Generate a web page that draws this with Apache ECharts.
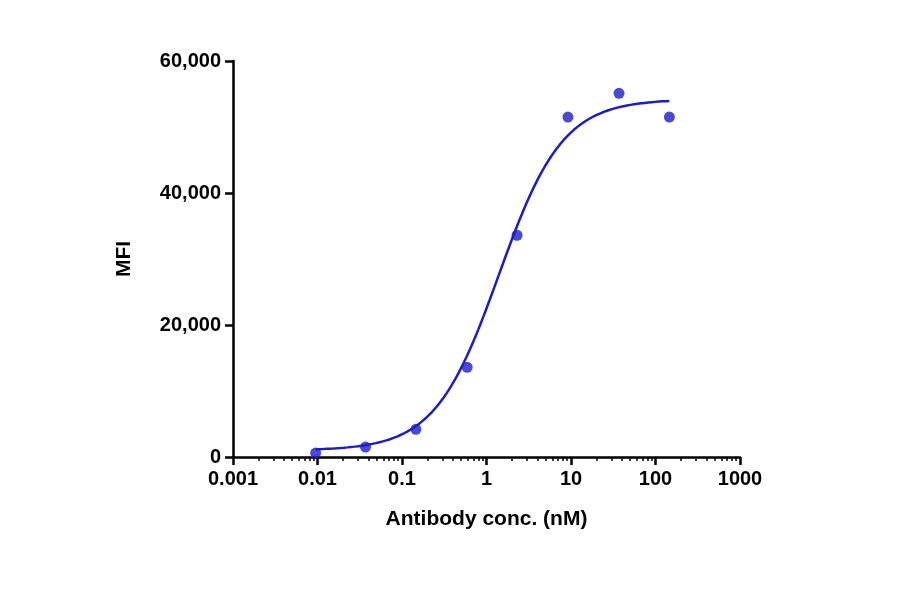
<!DOCTYPE html>
<html><head><meta charset="utf-8">
<script src="https://cdn.jsdelivr.net/npm/echarts@6/dist/echarts.min.js"></script>
<style>html,body{margin:0;background:#fff}#c{width:900px;height:594px}</style>
</head><body><div id="c"></div>
<script>
const conc = [0.0095, 0.037, 0.146, 0.59, 2.3, 9.2, 37, 146];
const mfi = [600, 1500, 4200, 13600, 33600, 51500, 55100, 51500];
// 4PL fit parameters: bottom, top, EC50, hill
const fitParams = [1000, 54200, 1.4, 1.15];
const fitRange = [0.0095, 146];
const yTicks = [0, 20000, 40000, 60000];

(function () {
const [fBot, fTop, ec50, hill] = fitParams;
const curve = [];
const l0 = Math.log10(fitRange[0]), l1 = Math.log10(fitRange[1]);
for (let i = 0; i <= 200; i++) {
  const x = Math.pow(10, l0 + (l1 - l0) * i / 200);
  curve.push([x, fBot + (fTop - fBot) / (1 + Math.pow(ec50 / x, hill))]);
}
const font = {fontFamily: 'Liberation Sans, Arial', fontWeight: 'bold', color: '#000'};
const chart = echarts.init(document.getElementById('c'));
chart.setOption({
  animation: false,
  grid: {left: 233, right: 160, top: 61, bottom: 137},
  xAxis: {
    type: 'log', min: 0.001, max: 1000, logBase: 10,
    name: 'Antibody conc. (nM)', nameLocation: 'middle', nameGap: 52,
    nameTextStyle: {...font, fontSize: 21},
    axisLine: {lineStyle: {color: '#000', width: 2.5}},
    axisTick: {length: 8, lineStyle: {color: '#000', width: 2.5}},
    minorTick: {show: true, splitNumber: 9, length: 4, lineStyle: {color: '#000', width: 1.5}},
    axisLabel: {...font, fontSize: 20, margin: 12, formatter: v => String(v)},
    splitLine: {show: false}
  },
  yAxis: {
    type: 'value', min: 0, max: yTicks[yTicks.length - 1], interval: 20000,
    name: 'MFI', nameLocation: 'middle', nameGap: 98,
    nameTextStyle: {...font, fontSize: 21},
    axisLine: {show: true, lineStyle: {color: '#000', width: 2.5}},
    axisTick: {show: true, length: 8, lineStyle: {color: '#000', width: 2.5}},
    axisLabel: {...font, fontSize: 20, margin: 12},
    splitLine: {show: false}
  },
  series: [
    {type: 'line', data: curve, showSymbol: false, smooth: false,
     lineStyle: {color: '#1c1cc8', width: 2.5}},
    {type: 'scatter', data: conc.map((c, i) => [c, mfi[i]]), symbol: 'circle', symbolSize: 11,
     itemStyle: {color: '#1c1cc8'}}
  ]
});
})();
</script></body></html>
